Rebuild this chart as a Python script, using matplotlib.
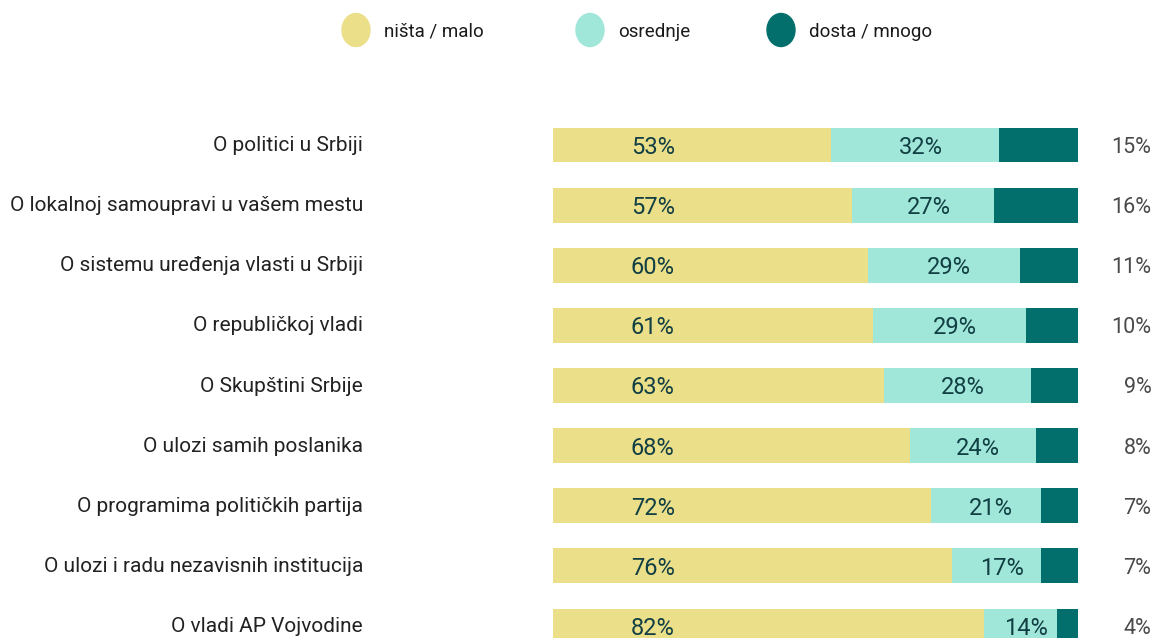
import numpy as np
import matplotlib
matplotlib.use("Agg")
from matplotlib import pyplot as plt
from matplotlib.patches import Ellipse

plt.rcParams['font.family'] = ['Roboto', 'DejaVu Sans']

categories = [
    "O politici u Srbiji",
    "O lokalnoj samoupravi u vašem mestu",
    "O sistemu uređenja vlasti u Srbiji",
    "O republičkoj vladi",
    "O Skupštini Srbije",
    "O ulozi samih poslanika",
    "O programima političkih partija",
    "O ulozi i radu nezavisnih institucija",
    "O vladi AP Vojvodine",
]
nista_malo = [53, 57, 60, 61, 63, 68, 72, 76, 82]
osrednje = [32, 27, 29, 29, 28, 24, 21, 17, 14]
dosta_mnogo = [15, 16, 11, 10, 9, 8, 7, 7, 4]
series_names = ["ništa / malo", "osrednje", "dosta / mnogo"]

colors = ["#EBDF8A", "#A0E7D9", "#026F6D"]
in_col = "#123F44"
out_col = "#4A4A4A"

W, H = 1152, 638
fig = plt.figure(figsize=(W / 100, H / 100), dpi=100)

# main axes in pixel-derived figure coords
top_px, bot_px = 115, 656
ax = fig.add_axes([553 / W, (H - bot_px) / H, 525 / W, (bot_px - top_px) / H])
y = np.arange(len(categories))
h = 0.58
a = np.array(nista_malo)
b = np.array(osrednje)
c = np.array(dosta_mnogo)
ax.barh(y, a, height=h, color=colors[0], clip_on=False)
ax.barh(y, b, left=a, height=h, color=colors[1], clip_on=False)
ax.barh(y, c, left=a + b, height=h, color=colors[2], clip_on=False)
ax.set_xlim(0, 100)
ax.set_ylim(len(categories) - 0.5, -0.5)
ax.axis("off")

for i in range(len(categories)):
    ax.text(19, y[i] + 0.04, f"{a[i]}%", ha="center", va="center", fontsize=17, color=in_col)
    ax.text(a[i] + b[i] / 2 + 1, y[i] + 0.04, f"{b[i]}%", ha="center", va="center", fontsize=17, color=in_col)
    ax.text(114, y[i] + 0.04, f"{c[i]}%", ha="right", va="center", fontsize=15.5, color=out_col, clip_on=False)
    ax.text(-36.2, y[i] + 0.01, categories[i], ha="right", va="center", fontsize=15, color="#222222", clip_on=False)

# legend in pixel space
lg = fig.add_axes([0, 0, 1, 1])
lg.set_xlim(0, W)
lg.set_ylim(H, 0)
lg.axis("off")
leg_x = [356, 590, 781]
for k, name in enumerate(series_names):
    lg.add_patch(Ellipse((leg_x[k], 30), 28, 33, color=colors[k]))
    lg.text(leg_x[k] + 28, 32, name, ha="left", va="center", fontsize=13.5, color="#1a1a1a")

fig.savefig("out.png", dpi=100)
